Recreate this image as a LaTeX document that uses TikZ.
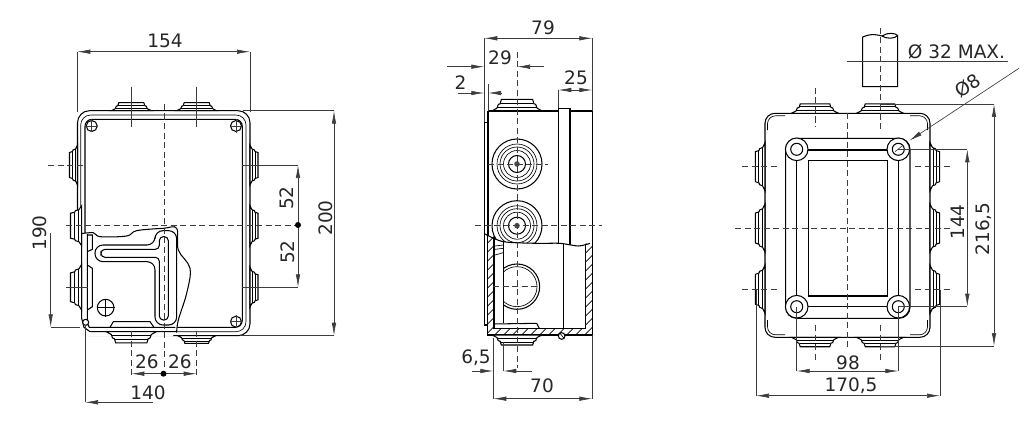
\documentclass[tikz,border=0pt]{standalone}
\usepackage{fontspec}
\setmainfont{DejaVu Sans}
\usetikzlibrary{arrows.meta}
\definecolor{dimline}{RGB}{60,60,60}
\tikzstyle{body}=[draw=black,line width=1.05pt]
\tikzstyle{fineline}=[draw=black,line width=.65pt]
\tikzstyle{dim}=[draw=dimline,line width=.65pt]
\tikzstyle{axis}=[draw=dimline,line width=.65pt,dash pattern=on 6pt off 3.5pt]
\tikzstyle{dimlabel}=[font=\fontsize{18.5}{18.5}\selectfont,inner sep=0pt,text=black!85]
\tikzset{>={Latex[length=13pt,width=4.5pt]},
  knob/.pic={
    \filldraw[body,fill=white] (-20,0) -- (-16,-2) -- (-15,-4.5) -- (-13.5,-5) -- (-12.5,-8) -- (12.5,-8) -- (13.5,-5) -- (15,-4.5) -- (16,-2) -- (20,0) -- cycle;
    \draw[fineline] (-16,-2.5) -- (16,-2.5);
    \draw[fineline] (-13,-5.5) -- (13,-5.5);
  }}
\begin{document}
\begin{tikzpicture}[x=1pt,y=-1pt]
  \useasboundingbox (0,0) rectangle (1024,425);

  %% Lid view with cut away corner
  \draw[body,rounded corners=12pt] (77.5,110.7) rectangle (250,335.7);
  \draw[fineline,rounded corners=10pt] (80.7,115) rectangle (246,331.7);
  \draw[body,rounded corners=7pt] (85,119.3) rectangle (242.3,327.3);
  \pic[shift={(131.3,110.7)}] {knob};
  \pic[shift={(196.7,110.7)}] {knob};
  \pic[shift={(77.5,165)},rotate=90] {knob};
  \pic[shift={(250,165)},rotate=-90] {knob};
  \pic[shift={(250,225.7)},rotate=-90] {knob};
  \pic[shift={(250,287.3)},rotate=-90] {knob};
  \pic[shift={(196.7,335.7)},rotate=180,scale=.95] {knob};
  \foreach \hx/\hy in {91.7/126,236/126,236/321.7}{\draw[body] (\hx,\hy) circle (5.5);}
  \begin{scope}[shift={(30,210)},scale=.3333]
    % torn open part
    \fill[white] plot[smooth,tension=.6] coordinates {(120,75) (190,68) (210,80) (290,78) (320,62) (400,55) (440,55) (445,120) (480,175) (470,250) (445,330) (440,368)} -- (425,380) -- (150,380) -- (120,340) -- cycle;
    \draw[body] plot[smooth,tension=.6] coordinates {(145,72) (190,68) (210,80) (290,78) (320,62) (400,55) (440,55) (445,120) (480,175) (470,250) (445,330) (440,368)};
    \draw[body] (155,72) -- (155,325) -- (162,352) -- (180,365) -- (440,365);
    \draw[body] (172,72) -- (172,340) -- (178,352) -- (436,352);
    \draw[body] (172,75) -- (187,75) -- (187,118) -- (172,125);
    \draw[body] (172,165) -- (187,175) -- (187,290) -- (172,300);
    \draw[body] (240,352) -- (250,335) -- (360,335) -- (372,352);
    \draw[body,rounded corners=8pt] (195,105) -- (375,105) -- (375,62) -- (440,62) -- (440,345) -- (375,345) -- (375,155) -- (195,155) -- cycle;
    \draw[body,rounded corners=4pt] (213,118) -- (388,118) -- (388,80) -- (415,80) -- (415,330) -- (388,330) -- (388,142) -- (213,142) -- cycle;
    \filldraw[body,fill=white] (227,293) circle (25);
    \draw[fineline] (200,293) -- (254,293);
    \draw[fineline] (227,266) -- (227,320);
    \filldraw[body,fill=white] (167,337) circle (9);
  \end{scope}
  \pic[shift={(81.7,225.7)},rotate=90,yscale=1.4] {knob};
  \pic[shift={(81.7,287.3)},rotate=90,xscale=1.15,yscale=1.4] {knob};
  \pic[shift={(131.3,331.7)},rotate=180,xscale=1.25,yscale=1.4] {knob};

  \draw[axis] (164.7,104) -- (164.7,367);
  \draw[axis] (66,225.7) -- (298,225.7);
  \draw[axis] (48,165) -- (85,165);
  \draw[dim] (66,287.3) -- (88,287.3);
  \draw[dim] (131.3,86.7) -- (131.3,126.7);
  \draw[dim] (196.7,86.7) -- (196.7,126.7);
  \draw[axis] (131.3,331) -- (131.3,376);
  \draw[axis] (196.7,331) -- (196.7,376);
  \draw[dim] (85,126) -- (98,126);
  \draw[dim] (91.7,132) -- (91.7,119);
  \draw[dim] (230,126) -- (242,126);
  \draw[dim] (236,119) -- (236,133);
  \draw[dim] (230,321.7) -- (242,321.7);
  \draw[dim] (236,315) -- (236,328);

  %% Lid view dimensions
  \draw[dim] (77.3,112) -- (77.3,51.7);
  \draw[dim] (250,112) -- (250,51.7);
  \draw[dim,<->] (77.3,51.7) -- (250,51.7);
  \draw (165,40.5) node[dimlabel] (L154) {154};
  \draw[dim] (242,165) -- (298,165);
  \draw[dim] (242,287.3) -- (298,287.3);
  \draw[dim,->] (298,225.7) -- (298,165);
  \draw[dim,->] (298,225.7) -- (298,287.3);
  \fill[black] (298,225) circle (3);
  \draw (287,198) node[dimlabel,rotate=90] (L52a) {52};
  \draw (288,252) node[dimlabel,rotate=90] (L52b) {52};
  \draw[dim] (243,110.7) -- (334,110.7);
  \draw[dim] (240,335.7) -- (334,335.7);
  \draw[dim,<->] (334,110.7) -- (334,335.7);
  \draw (325.5,218) node[dimlabel,rotate=90] (L200) {200};
  \draw[dim] (80,327.3) -- (50.7,327.3);
  \draw[dim,->] (50.7,233) -- (50.7,327.3);
  \draw (40,233) node[dimlabel,rotate=90] (L190) {190};
  \draw[dim,->] (164,373.7) -- (131.3,373.7);
  \draw[dim,->] (164,373.7) -- (196.7,373.7);
  \fill[black] (163.5,373.7) circle (3);
  \draw (147,362) node[dimlabel] (L26a) {26};
  \draw (180,362) node[dimlabel] (L26b) {26};
  \draw[dim] (85,325) -- (85,402.3);
  \draw[dim,->] (153,402.3) -- (85,402.3);
  \draw (148,393) node[dimlabel] (L140) {140};

  %% Side view
  \pic[shift={(517,111)},xscale=1.25,yscale=1.45] {knob};
  \draw[body] (488,111) -- (558.3,111) -- (558.3,108.3) -- (570,108.3) -- (570,111) -- (592.3,111) -- (592.3,335);
  \draw[body] (488,111) -- (488,325);
  \draw[body] (558.3,111) -- (558.3,250);
  \draw[body] (570,111) -- (570,250);
  \foreach \cy in {164,225.7}{
    \draw[body] (517,\cy) circle (25);
    \draw[fineline] (517,\cy) circle (20);
    \draw[fineline] (517,\cy) circle (17);
    \draw[fineline] (517,\cy) circle (13.5);
    \draw[body] (517,\cy) circle (8.5);
    \fill[black!70] (517,\cy) circle (2.8);
  }
  \begin{scope}[shift={(440,210)},scale=.3333]
    \fill[white] plot[smooth,tension=.5] coordinates {(135,72) (190,95) (290,100) (360,100) (415,108) (450,100)} -- (462,100) -- (462,378) -- (140,378) -- cycle;
    \draw[body] plot[smooth,tension=.5] coordinates {(135,72) (190,95) (290,100) (360,100) (415,108) (450,100)};
    \begin{scope}
      \clip (143,72) rectangle (162,375) (437,100) rectangle (458,375) (143,355) rectangle (458,375);
      \foreach \c in {215,242,...,835}{\draw[fineline] (\c,0) -- (0,\c);}
    \end{scope}
    \begin{scope}
      \clip (190,100) rectangle (437,355);
      \draw[body] (231,230) circle (68);
      \draw[fineline] (231,230) circle (60);
    \end{scope}
    \draw[body] (143,72) -- (143,375) -- (458,375) -- (458,100);
    \draw[body] (162,80) -- (162,355) -- (437,355) -- (437,105);
    \draw[body] (190,95) -- (190,340);
    \draw[body] (162,342) -- (290,340) -- (298,355);
    \draw[fineline] (165,108) -- (190,105);
    \draw[fineline] (165,118) -- (190,115) -- (190,128) -- (165,135);
    \draw[body] (370,102) -- (370,358);
    \filldraw[body,fill=white] (365,378) circle (10);
    \draw[fineline] (360,370) -- (372,385);
  \end{scope}
  \draw[body] (484.3,122.3) -- (488,122.3);
  \draw[body] (484.3,122.3) -- (484.3,325) -- (488,325);
  \pic[shift={(517,335)},rotate=180,xscale=1.25,yscale=1.25] {knob};
  \draw[axis] (517,51.7) -- (517,368);
  \draw[axis] (475,225.7) -- (602,225.7);
  \draw[axis] (488,164) -- (548,164);
  \draw[axis] (493,286.7) -- (537,286.7);

  %% Side view dimensions
  \draw[dim] (484.3,122) -- (484.3,38.3);
  \draw[dim] (592.3,111) -- (592.3,38.3);
  \draw[dim,<->] (484.3,38.3) -- (592.3,38.3);
  \draw (543,27.5) node[dimlabel] (L79) {79};
  \draw[dim,->] (447,66.7) -- (484.3,66.7);
  \draw[dim,->] (544,66.7) -- (517,66.7);
  \draw (500,57.5) node[dimlabel] (L29) {29};
  \draw[dim] (488,84) -- (488,111);
  \draw[dim,->] (458,93) -- (484.3,93);
  \draw[dim,->] (502,93) -- (488,93);
  \draw (460.5,83) node[dimlabel] (L2) {2};
  \draw[dim] (558.3,108) -- (558.3,90);
  \draw[dim,->] (575,90) -- (558.3,90);
  \draw[dim,->] (575,90) -- (592.3,90);
  \draw (576,78) node[dimlabel] (L25) {25};
  \draw[dim] (493.3,338) -- (493.3,398.7);
  \draw[dim] (503.3,342) -- (503.3,371);
  \draw[dim] (592.3,335) -- (592.3,398.7);
  \draw[dim,->] (472,371) -- (493.3,371);
  \draw[dim,->] (532,371) -- (503.3,371);
  \draw (476,358) node[dimlabel] (L65) {6,5};
  \draw[dim,<->] (493.3,398.7) -- (592.3,398.7);
  \draw (542,386) node[dimlabel] (L70) {70};

  %% Base view
  \draw[body,rounded corners=10pt] (765,113.3) rectangle (930,337.3);
  \draw[fineline,rounded corners=8pt] (767.5,130) -- (767.5,115.8) -- (785,115.8);
  \draw[fineline,rounded corners=8pt] (927.5,130) -- (927.5,115.8) -- (910,115.8);
  \draw[fineline,rounded corners=8pt] (767.5,320) -- (767.5,334.8) -- (785,334.8);
  \draw[fineline,rounded corners=8pt] (927.5,320) -- (927.5,334.8) -- (910,334.8);
  \foreach \kx in {815,880}{
    \pic[shift={(\kx,113.3)},scale=1.18] {knob};
    \pic[shift={(\kx,337.3)},rotate=180,scale=1.18] {knob};
  }
  \foreach \ky in {166.7,228,289.3}{
    \pic[shift={(765,\ky)},rotate=90,scale=1.2] {knob};
    \pic[shift={(930,\ky)},rotate=-90,scale=1.2] {knob};
  }
  \draw[body,rounded corners=11pt] (785.7,138.3) rectangle (910,318.3);
  \draw[body] (808.3,160.7) rectangle (887.3,296);
  \draw[body] (796.7,149.3) -- (796.7,306.7);
  \draw[body] (898.3,149.3) -- (898.3,306.7);
  \draw[body] (796.7,150) -- (898.3,150);
  \draw[body] (796.7,306.7) -- (898.3,306.7);
  \foreach \hx/\hy in {796.7/149.3,898.3/149.3,796.7/306.7,898.3/306.7}{
    \filldraw[body,fill=white] (\hx,\hy) circle (11.3);
    \draw[body] (\hx,\hy) circle (6);
  }
  \draw[body] (862.7,86.7) -- (862.7,37) .. controls (872,33) and (878,35) .. (882,36) .. controls (888,32) and (895,33) .. (897.7,35.5) -- (897.7,86.7) -- cycle;
  \draw[body] (882,36) .. controls (886,39) and (895,39) .. (897.7,35.5);
  \draw[axis] (847.7,113) -- (847.7,350);
  \draw[axis] (735,228) -- (953,228);
  \draw[axis] (742,166.7) -- (780,166.7);
  \draw[axis] (915,166.7) -- (953,166.7);
  \draw[axis] (742,289.3) -- (780,289.3);
  \draw[axis] (915,289.3) -- (953,289.3);
  \draw[axis] (815,88) -- (815,126.7);
  \draw[axis] (880,28) -- (880,130);
  \draw[axis] (815,325) -- (815,363);
  \draw[axis] (880,325) -- (880,363);

  %% Base view dimensions
  \draw[dim] (846.7,61.7) -- (1008,61.7);
  \draw (956.5,51.5) node[dimlabel] (Lpipe) {Ø 32 MAX.};
  \draw[dim,->] (1019,68.3) -- (909.3,140.7);
  \draw[dim] (895,151.7) -- (903.3,145);
  \draw (968,85.5) node[dimlabel,rotate=33] (L8) {Ø8};
  \draw[dim] (898.3,149.3) -- (967.3,149.3);
  \draw[dim] (898.3,306.7) -- (967.3,306.7);
  \draw[dim,<->] (967.3,149.3) -- (967.3,306.7);
  \draw (957.7,222) node[dimlabel,rotate=90] (L144) {144};
  \draw[dim] (880,104) -- (994,104);
  \draw[dim] (880,346) -- (994,346);
  \draw[dim,<->] (994,104) -- (994,346);
  \draw (984,229) node[dimlabel,rotate=90] (L216) {216,5};
  \draw[dim] (796.7,306.7) -- (796.7,371);
  \draw[dim] (898.3,306.7) -- (898.3,371);
  \draw[dim,<->] (796.7,371) -- (898.3,371);
  \draw (848,362.5) node[dimlabel] (L98) {98};
  \draw[dim] (756,290) -- (756,395.7);
  \draw[dim] (940,290) -- (940,395.7);
  \draw[dim,<->] (756,395.7) -- (940,395.7);
  \draw (851,385.5) node[dimlabel] (L170) {170,5};
\end{tikzpicture}
\end{document}
